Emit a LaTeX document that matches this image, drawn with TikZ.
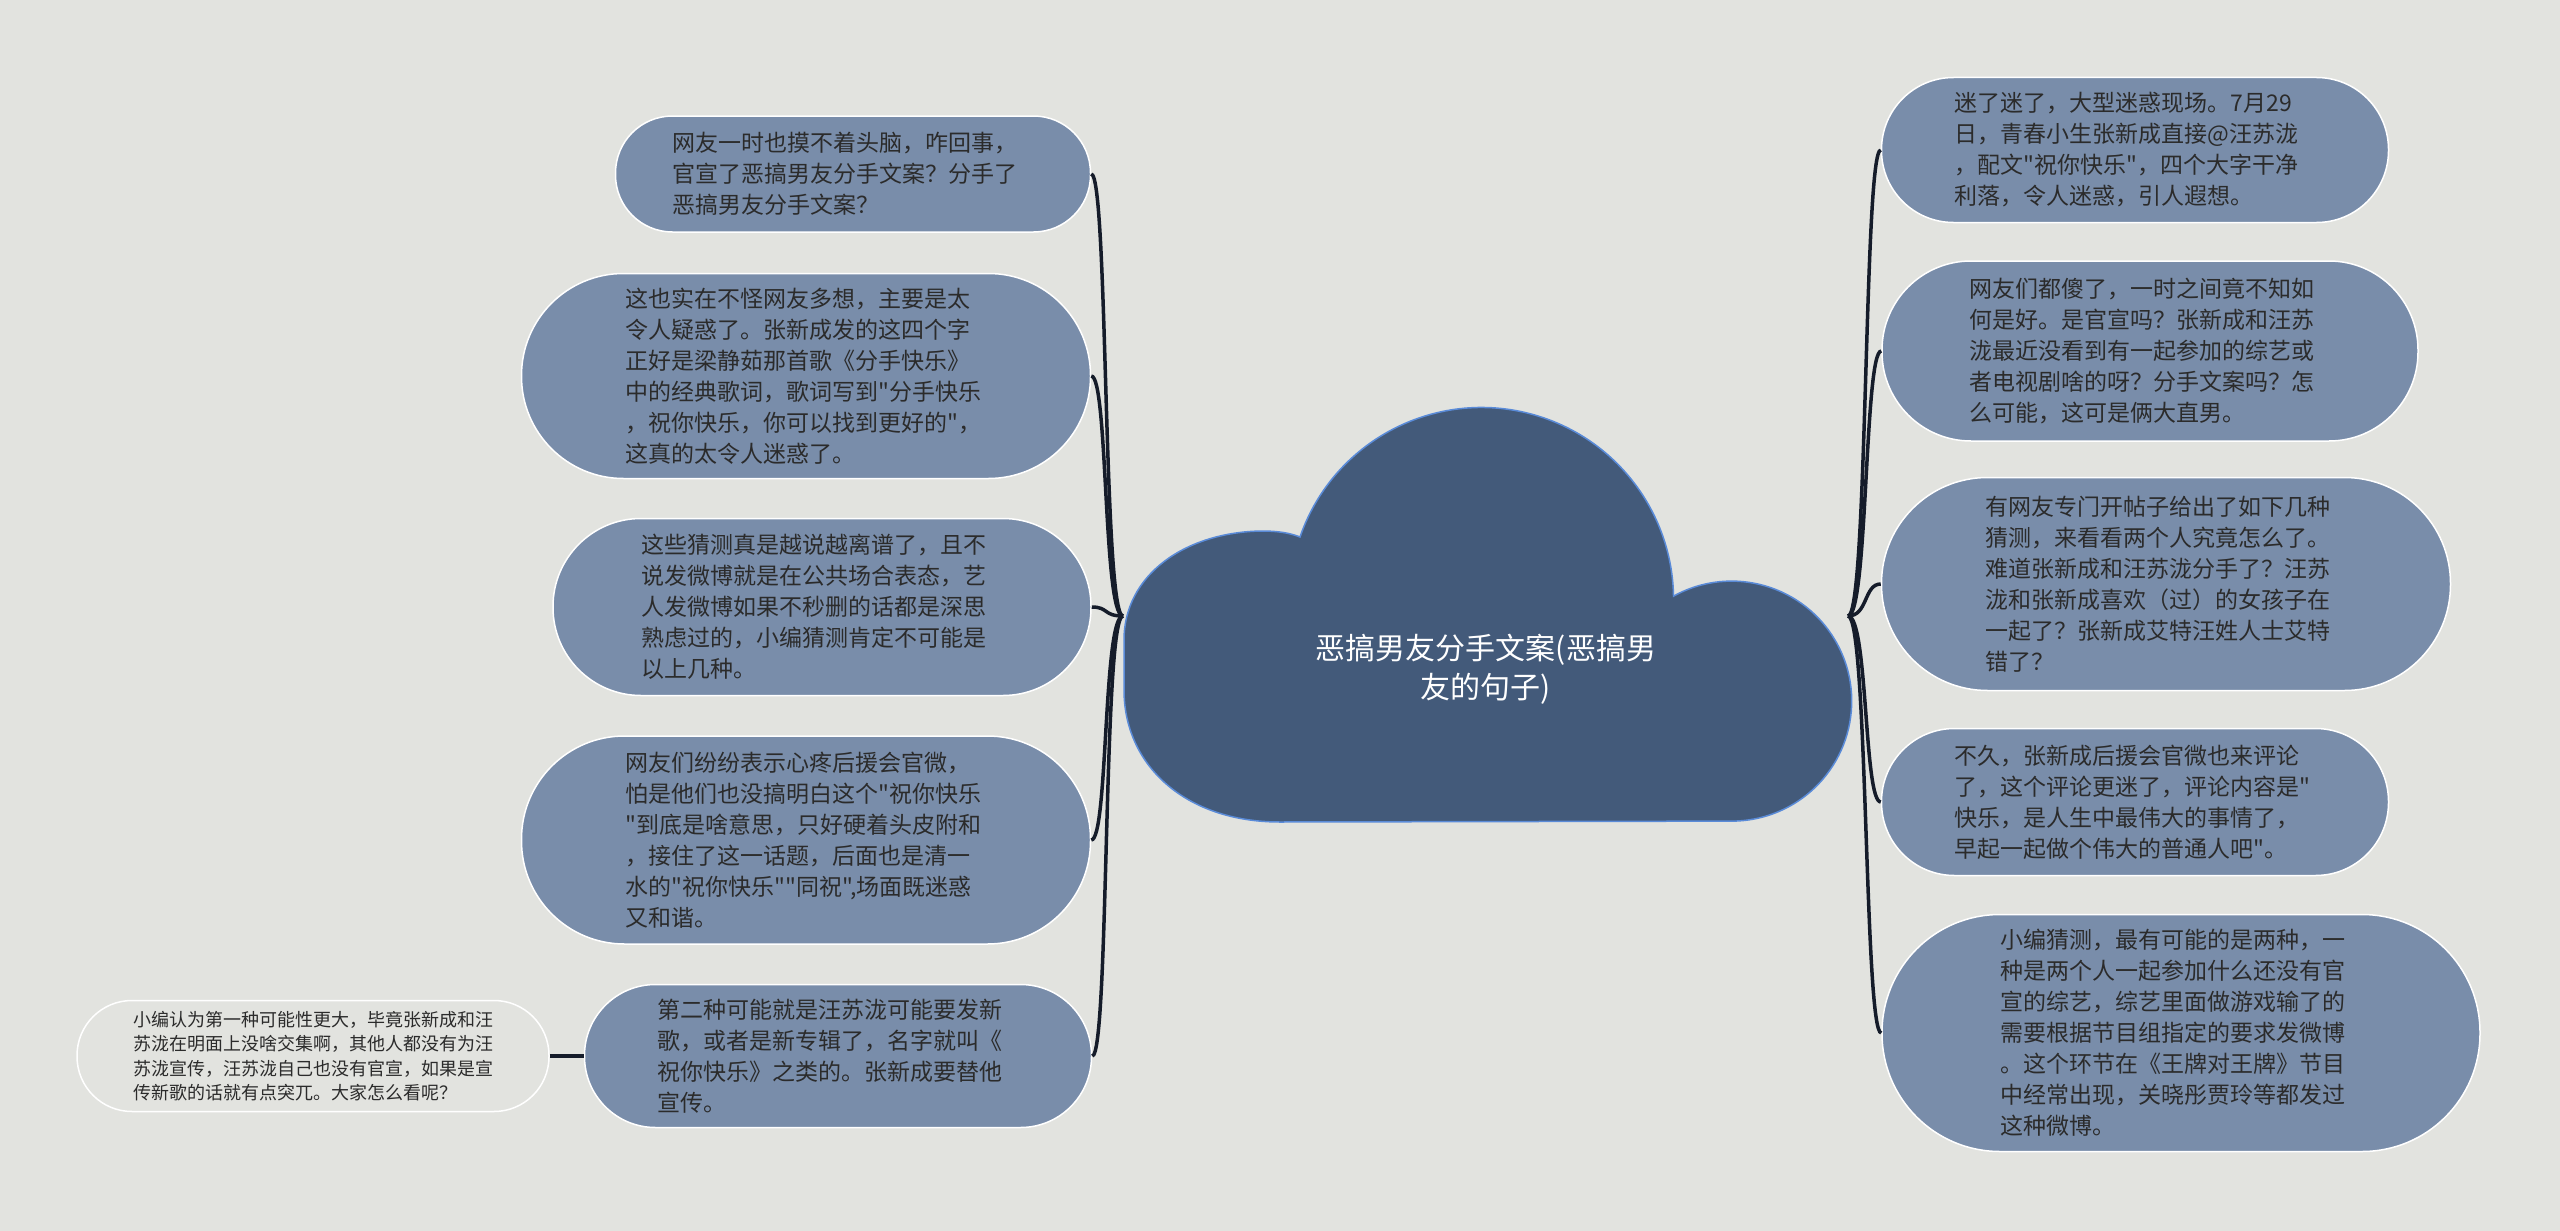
\documentclass[tikz,border=0pt]{standalone}
\usepackage{fontspec}
\newfontfamily\cjk{Noto Sans CJK SC}
\definecolor{bg}{HTML}{E2E3DF}
\definecolor{topicfill}{HTML}{798DAA}
\definecolor{cloudfill}{HTML}{435A7A}
\definecolor{cloudline}{HTML}{5A8BD8}
\definecolor{txt}{HTML}{2B2B2B}
\definecolor{conn}{HTML}{151C2A}
\tikzset{
  topic/.style={draw=white, line width=1.5pt, fill=topicfill, text=txt, align=left, text width=361pt, inner sep=0pt, font=\cjk\fontsize{23}{31}\selectfont},
  leafbox/.style={draw=white, line width=1.5pt, fill=bg, text=txt, align=left, inner sep=0pt, font=\cjk\fontsize{18}{24.5}\selectfont},
  link/.style={draw=conn, line width=3.5pt},
  cloudshape/.style={fill=cloudfill, draw=cloudline, line width=1.5pt},
}
\begin{document}
\begin{tikzpicture}[x=1pt,y=-1pt]
\fill[bg] (0,0) rectangle (2560,1231);
\useasboundingbox (0,0) rectangle (2560,1231);

% left topics
\node[topic, minimum width=475pt, minimum height=116pt, rounded corners=57pt] (l1) at (853,174) {网友一时也摸不着头脑，咋回事，\\官宣了恶搞男友分手文案？分手了\\恶搞男友分手文案？};
\node[topic, minimum width=569pt, minimum height=205pt, rounded corners=102pt] (l2) at (806,376) {这也实在不怪网友多想，主要是太\\令人疑惑了。张新成发的这四个字\\正好是梁静茹那首歌《分手快乐》\\中的经典歌词，歌词写到"分手快乐\\，祝你快乐，你可以找到更好的"，\\这真的太令人迷惑了。};
\node[topic, minimum width=538pt, minimum height=177pt, rounded corners=88pt] (l3) at (822,607) {这些猜测真是越说越离谱了，且不\\说发微博就是在公共场合表态，艺\\人发微博如果不秒删的话都是深思\\熟虑过的，小编猜测肯定不可能是\\以上几种。};
\node[topic, minimum width=569pt, minimum height=208pt, rounded corners=103pt] (l4) at (806,840) {网友们纷纷表示心疼后援会官微，\\怕是他们也没搞明白这个"祝你快乐\\"到底是啥意思，只好硬着头皮附和\\，接住了这一话题，后面也是清一\\水的"祝你快乐""同祝",场面既迷惑\\又和谐。};
\node[topic, minimum width=507pt, minimum height=143pt, rounded corners=71pt] (l5) at (838,1056) {第二种可能就是汪苏泷可能要发新\\歌，或者是新专辑了，名字就叫《\\祝你快乐》之类的。张新成要替他\\宣传。};
\node[leafbox, minimum width=472pt, minimum height=111pt, rounded corners=55pt] (leaf) at (313,1056) {小编认为第一种可能性更大，毕竟张新成和汪\\苏泷在明面上没啥交集啊，其他人都没有为汪\\苏泷宣传，汪苏泷自己也没有官宣，如果是宣\\传新歌的话就有点突兀。大家怎么看呢？};

% right topics
\node[topic, minimum width=507pt, minimum height=145pt, rounded corners=72pt] (r1) at (2135,150) {迷了迷了，大型迷惑现场。7月29\\日，青春小生张新成直接@汪苏泷\\，配文"祝你快乐"，四个大字干净\\利落，令人迷惑，引人遐想。};
\node[topic, minimum width=536pt, minimum height=180pt, rounded corners=89pt] (r2) at (2150,351) {网友们都傻了，一时之间竟不知如\\何是好。是官宣吗？张新成和汪苏\\泷最近没看到有一起参加的综艺或\\者电视剧啥的呀？分手文案吗？怎\\么可能，这可是俩大直男。};
\node[topic, minimum width=569pt, minimum height=213pt, rounded corners=106pt] (r3) at (2166,584) {有网友专门开帖子给出了如下几种\\猜测，来看看两个人究竟怎么了。\\难道张新成和汪苏泷分手了？汪苏\\泷和张新成喜欢（过）的女孩子在\\一起了？张新成艾特汪姓人士艾特\\错了？};
\node[topic, minimum width=507pt, minimum height=147pt, rounded corners=73pt] (r4) at (2135,802) {不久，张新成后援会官微也来评论\\了，这个评论更迷了，评论内容是"\\快乐，是人生中最伟大的事情了，\\早起一起做个伟大的普通人吧"。};
\node[topic, minimum width=598pt, minimum height=237pt, rounded corners=118pt] (r5) at (2181,1033) {小编猜测，最有可能的是两种，一\\种是两个人一起参加什么还没有官\\宣的综艺，综艺里面做游戏输了的\\需要根据节目组指定的要求发微博\\。这个环节在《王牌对王牌》节目\\中经常出现，关晓彤贾玲等都发过\\这种微博。};

% connectors
\coordinate (jl) at (1123,616);
\coordinate (jr) at (1848,616);
\foreach \n in {l1,l2,l3,l4,l5}
  \draw[link] (jl) .. controls +(-20,0) and +(17,0) .. (\n.east);
\foreach \n in {r1,r2,r3,r4,r5}
  \draw[link] (jr) .. controls +(20,0) and +(-17,0) .. (\n.west);
\draw[link] (l5.west) -- (leaf.east);

% cloud
\path[cloudshape] (1280,822) .. controls (1185,822) and (1124,765) .. (1124,690)
  -- (1124,640) .. controls (1124,575) and (1185,532) .. (1262,531)
  .. controls (1278,531) and (1290,533) .. (1300,537)
  arc[start angle=199, end angle=359, radius=192]
  arc[start angle=241, end angle=450, radius=120]
  -- cycle;
\node[font=\cjk\fontsize{30}{39}\selectfont, text=white, align=center] (root) at (1486,669) {恶搞男友分手文案(恶搞男\\友的句子)};
\end{tikzpicture}
\end{document}
